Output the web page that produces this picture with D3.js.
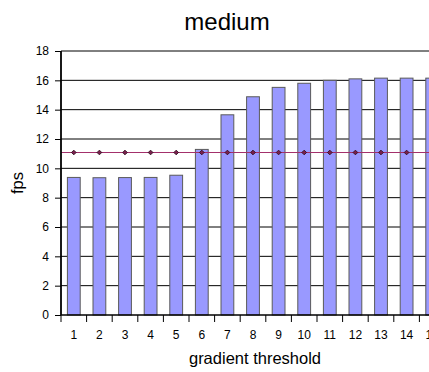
<!DOCTYPE html>
<html>
<head>
<meta charset="utf-8">
<script src="https://cdn.jsdelivr.net/npm/d3@7"></script>
<style>
  html, body { margin: 0; padding: 0; background: #fff; overflow: hidden; }
  svg { display: block; font-family: Arial, "Liberation Sans", sans-serif; }
</style>
</head>
<body>
<svg id="chart" width="429" height="372"></svg>
<script>
// Gradient threshold settings and measured frame rates
const thresholds = ["1","2","3","4","5","6","7","8","9","10","11","12","13","14","15"];
const fpsValues  = [9.38, 9.36, 9.37, 9.38, 9.53, 11.29, 13.65, 14.88, 15.52, 15.8, 16.0, 16.1, 16.15, 16.15, 16.15];
const baseline   = [11.08, 11.08, 11.08, 11.08, 11.08, 11.08, 11.08, 11.08, 11.08, 11.08, 11.08, 11.08, 11.08, 11.08, 11.08];
const yTicks     = [0, 2, 4, 6, 8, 10, 12, 14, 16, 18];

const svg = d3.select("#chart");
const plotLeft = 61, plotTop = 51, plotBottom = 315;
const step = 25.6;
const plotRight = plotLeft + step * thresholds.length;

const x = d3.scaleBand().domain(thresholds).range([plotLeft, plotRight])
  .paddingInner(0.5).paddingOuter(0.25);
const y = d3.scaleLinear().domain([0, 18]).range([plotBottom, plotTop]);

// title
svg.append("text").attr("x", 227).attr("y", 30).attr("text-anchor", "middle")
  .attr("font-size", 24).attr("fill", "#000").text("medium");

// horizontal gridlines
svg.append("g").selectAll("line").data(yTicks.filter(d => d > 0)).join("line")
  .attr("x1", plotLeft).attr("x2", plotRight)
  .attr("y1", d => y(d)).attr("y2", d => y(d))
  .attr("stroke", "#000").attr("stroke-width", 1);

// bars
svg.append("g").selectAll("rect").data(fpsValues).join("rect")
  .attr("x", (d, i) => x(thresholds[i]))
  .attr("width", x.bandwidth())
  .attr("y", d => y(d))
  .attr("height", d => y(0) - y(d))
  .attr("fill", "#9999ff").attr("stroke", "#5a5a5a").attr("stroke-width", 1);

// reference line across the plot with diamond markers
svg.append("line")
  .attr("x1", plotLeft).attr("x2", plotRight)
  .attr("y1", y(baseline[0])).attr("y2", y(baseline[baseline.length - 1]))
  .attr("stroke", "#a3306b").attr("stroke-width", 1.2);
const diamond = d3.symbol().type(d3.symbolSquare).size(11);
svg.append("g").selectAll("path").data(baseline).join("path")
  .attr("transform", (d, i) => `translate(${x(thresholds[i]) + x.bandwidth() / 2},${y(d)}) rotate(45)`)
  .attr("d", diamond)
  .attr("fill", "#7a1f4d").attr("stroke", "#2a0a1a").attr("stroke-width", 0.8);

// y axis
const yAxis = d3.axisLeft(y).tickValues(yTicks).tickSize(6).tickPadding(6).tickFormat(d3.format("d"));
const gy = svg.append("g").attr("transform", `translate(${plotLeft},0)`).call(yAxis);
gy.select(".domain").attr("stroke", "#000").attr("stroke-width", 1.8).attr("d", `M0,${plotTop}V${plotBottom}`);
gy.selectAll(".tick line").attr("stroke", "#000");
gy.selectAll("text").attr("font-size", 12).attr("fill", "#000").attr("font-family", "Arial, 'Liberation Sans', sans-serif");

// x axis: line along zero, ticks at category boundaries, labels at centres
svg.append("line").attr("x1", plotLeft).attr("x2", plotRight).attr("y1", plotBottom).attr("y2", plotBottom)
  .attr("stroke", "#000").attr("stroke-width", 1.5);
svg.append("g").selectAll("line").data(thresholds).join("line")
  .attr("x1", d => x(d) - x.step() * 0.25).attr("x2", d => x(d) - x.step() * 0.25)
  .attr("y1", plotBottom).attr("y2", plotBottom + 7)
  .attr("stroke", "#000");
svg.append("g").selectAll("text").data(thresholds).join("text")
  .attr("x", d => x(d) + x.bandwidth() / 2).attr("y", 339)
  .attr("text-anchor", "middle").attr("font-size", 12).attr("fill", "#000")
  .text(d => d);

// axis titles
svg.append("text").attr("x", 255).attr("y", 364).attr("text-anchor", "middle")
  .attr("font-size", 16.5).attr("fill", "#000").text("gradient threshold");
svg.append("text").attr("transform", "translate(23,183) rotate(-90)")
  .attr("text-anchor", "middle").attr("font-size", 16.5).attr("fill", "#000").text("fps");
</script>
</body>
</html>
